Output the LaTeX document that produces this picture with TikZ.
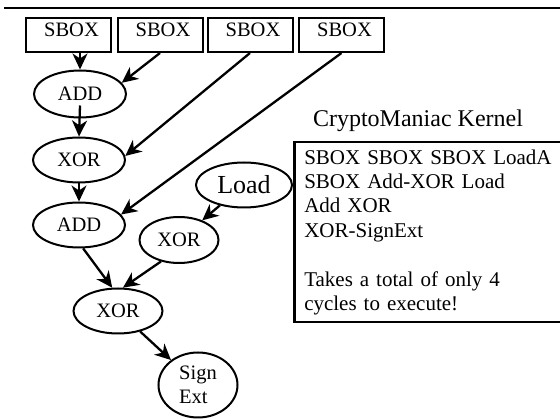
\documentclass[tikz,border=0pt]{standalone}
\usepackage{fontspec}
\setmainfont{Liberation Serif}
\usetikzlibrary{arrows.meta}
\usetikzlibrary{shapes.geometric}
\tikzset{>={Stealth[width=15pt,length=16pt,inset=5pt]}}
\tikzset{
    sbox/.style={draw, line width=2pt, minimum width=85pt, minimum height=34pt, inner ysep=2pt, text height=17pt, text depth=13pt, font=\fontsize{20.5}{24.5}\selectfont},
    op/.style={draw, ellipse, line width=2pt, inner sep=0pt, font=\fontsize{20.5}{24.5}\selectfont},
    dep/.style={draw, ->, line width=2.3pt}
}

\begin{document}
\begin{tikzpicture}[x=1pt, y=-1pt]
    \useasboundingbox (0,0) rectangle (560,419);
    \draw [line width=2.5pt] (4,8) -- (560,8);

    \node (sbox1) at (68.5,35) [sbox] {\hspace*{6pt}SBOX};
    \node (sbox2) at (160,35) [sbox] {\hspace*{6pt}SBOX};
    \node (sbox3) at (250,35) [sbox] {\hspace*{6pt}SBOX};
    \node (sbox4) at (341.5,35) [sbox] {\hspace*{6pt}SBOX};

    \node (add1) at (80,94) [op, minimum width=92pt, minimum height=47pt] {ADD};
    \node (xor1) at (79,160) [op, minimum width=92pt, minimum height=45pt] {XOR};
    \node (add2) at (79,225) [op, minimum width=92pt, minimum height=45pt] {ADD};
    \node (load) at (244,185) [op, minimum width=96pt, minimum height=45pt, font=\fontsize{26}{30}\selectfont] {Load};
    \node (xor2) at (179,240) [op, minimum width=79pt, minimum height=46pt] {XOR};
    \node (xor3) at (118,311) [op, minimum width=89pt, minimum height=45pt] {XOR};
    \node (sign) at (198,385) [op, minimum width=79pt, minimum height=65pt, align=left] {Sign\\Ext};

    \node (title) at (418,127) [anchor=base, font=\fontsize{24}{28}\selectfont] {CryptoManiac Kernel};
    \node (kernel) at (293,141) [draw, line width=2.5pt, anchor=north west, minimum height=180pt, text width=300pt, inner xsep=10pt, inner ysep=0pt, align=left, font=\fontsize{21}{24.4}\selectfont]
        {SBOX SBOX SBOX LoadA\\ SBOX Add-XOR Load\\ Add XOR\\ XOR-SignExt\\[\baselineskip] Takes a total of only 4\\ cycles to execute!};

    \path [dep] (sbox1.south -| add1) -- (add1);
    \path [dep] (sbox2.south) -- (add1.15);
    \path [dep] (sbox3.south) -- (xor1.5);
    \path [dep] (sbox4.south) -- (add2.14);
    \path [dep] ([yshift=13pt]add1.south) -- (xor1.north);
    \path [dep] (xor1.south) -- (add2.north);
    \path [dep] (load) -- (xor2);
    \path [dep] (add2.-80) -- (xor3.104);
    \path [dep] (xor2.-130) -- (xor3.78);
    \path [dep] (xor3) -- (sign);
\end{tikzpicture}
\end{document}
